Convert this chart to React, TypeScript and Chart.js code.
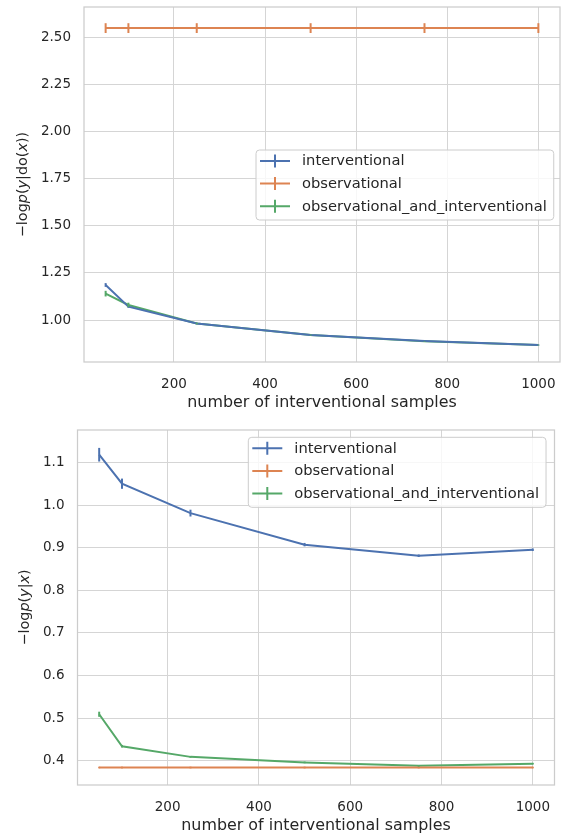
import { useEffect, useRef } from 'react';
import { Chart, registerables } from 'chart.js';

Chart.register(...registerables);

// ---------- data ----------
const samples = [50, 100, 250, 500, 750, 1000];
const seriesNames = ['interventional', 'observational', 'observational_and_interventional'];
const seriesColors = ['#4C72B0', '#DD8452', '#55A868'];
const xTicks = [200, 400, 600, 800, 1000];
const xTitle = 'number of interventional samples';

// top panel: -log p(y | do(x))
const doInterventional = [1.186, 1.071, 0.982, 0.92, 0.888, 0.867];
const doInterventionalErr = [0.01, 0.006, 0.004, 0.003, 0.003, 0.002];
const doObservational = [2.55, 2.55, 2.55, 2.55, 2.55, 2.55];
const doObservationalErr = [0.026, 0.026, 0.026, 0.026, 0.026, 0.026];
const doMixed = [1.14, 1.08, 0.982, 0.92, 0.887, 0.867];
const doMixedErr = [0.015, 0.012, 0.004, 0.003, 0.002, 0.002];
const topYTicks = [1.0, 1.25, 1.5, 1.75, 2.0, 2.25, 2.5];

// bottom panel: -log p(y | x)
const condInterventional = [1.118, 1.05, 0.981, 0.907, 0.881, 0.895];
const condInterventionalErr = [0.016, 0.012, 0.008, 0.004, 0.003, 0.003];
const condObservational = [0.384, 0.384, 0.384, 0.384, 0.384, 0.384];
const condObservationalErr = [0.002, 0.002, 0.002, 0.002, 0.002, 0.002];
const condMixed = [0.509, 0.434, 0.409, 0.396, 0.388, 0.393];
const condMixedErr = [0.006, 0.003, 0.002, 0.002, 0.002, 0.002];
const bottomYTicks = [0.4, 0.5, 0.6, 0.7, 0.8, 0.9, 1.0, 1.1];

const topYTitle: [string, boolean][] = [
  ['\u2212log', false], ['p', true], ['(', false], ['y', true], ['|do(', false], ['x', true], ['))', false],
];
const bottomYTitle: [string, boolean][] = [
  ['\u2212log', false], ['p', true], ['(', false], ['y', true], ['|', false], ['x', true], [')', false],
];

// ---------- styling ----------
const FONT = "'DejaVu Sans', sans-serif";
const TEXT = '#262626';
const GRID = '#d5d5d5';
const FRAME = '#cccccc';
const LINE_W = 2;

const errorBarPlugin = {
  id: 'errorBars',
  afterDatasetsDraw(chart: any, _args: any, opts: any) {
    const ctx = chart.ctx;
    const yScale = chart.scales.y;
    const errs: number[][] = opts.errors || [];
    chart.data.datasets.forEach((ds: any, i: number) => {
      const meta = chart.getDatasetMeta(i);
      const e = errs[i];
      if (!e) return;
      ctx.save();
      ctx.strokeStyle = ds.borderColor;
      ctx.lineWidth = LINE_W;
      meta.data.forEach((pt: any, j: number) => {
        const v = ds.data[j].y;
        const y1 = yScale.getPixelForValue(v - e[j]);
        const y2 = yScale.getPixelForValue(v + e[j]);
        ctx.beginPath();
        ctx.moveTo(pt.x, y1);
        ctx.lineTo(pt.x, y2);
        ctx.stroke();
      });
      ctx.restore();
    });
  },
};

const framePlugin = {
  id: 'frameAndTitle',
  beforeDatasetsDraw(chart: any) {
    const { ctx, chartArea } = chart;
    ctx.save();
    ctx.strokeStyle = FRAME;
    ctx.lineWidth = 1.25;
    ctx.strokeRect(chartArea.left, chartArea.top, chartArea.right - chartArea.left, chartArea.bottom - chartArea.top);
    ctx.restore();
  },
  afterDraw(chart: any, _args: any, opts: any) {
    const { ctx, chartArea } = chart;
    // y-axis title with math italics
    const segs: [string, boolean][] = opts.yTitle || [];
    ctx.save();
    const fontFor = (it: boolean) => `${it ? 'italic ' : ''}14.4px ${FONT}`;
    let total = 0;
    const widths = segs.map(([t, it]) => {
      ctx.font = fontFor(it);
      const w = ctx.measureText(t).width;
      total += w;
      return w;
    });
    const cy = (chartArea.top + chartArea.bottom) / 2;
    ctx.translate(opts.yTitleX, cy);
    ctx.rotate(-Math.PI / 2);
    ctx.fillStyle = TEXT;
    ctx.textBaseline = 'middle';
    ctx.textAlign = 'left';
    let x = -total / 2;
    segs.forEach(([t, it], k) => {
      ctx.font = fontFor(it);
      ctx.fillText(t, x, 0);
      x += widths[k];
    });
    ctx.restore();

    // legend
    const lg = opts.legend;
    if (!lg) return;
    ctx.save();
    ctx.font = `14.7px ${FONT}`;
    const names: string[] = lg.names;
    const colors: string[] = lg.colors;
    const maxW = Math.max(...names.map((n) => ctx.measureText(n).width));
    const textOff = 46;
    const w = textOff + maxW + 7;
    const rowH = 22.6;
    const firstOff = 11;
    const h = 70;
    const left = lg.left;
    const top = lg.top;
    const r = 3.5;
    ctx.beginPath();
    ctx.moveTo(left + r, top);
    ctx.lineTo(left + w - r, top);
    ctx.arcTo(left + w, top, left + w, top + r, r);
    ctx.lineTo(left + w, top + h - r);
    ctx.arcTo(left + w, top + h, left + w - r, top + h, r);
    ctx.lineTo(left + r, top + h);
    ctx.arcTo(left, top + h, left, top + h - r, r);
    ctx.lineTo(left, top + r);
    ctx.arcTo(left, top, left + r, top, r);
    ctx.closePath();
    ctx.fillStyle = 'rgba(255,255,255,0.8)';
    ctx.fill();
    ctx.strokeStyle = FRAME;
    ctx.lineWidth = 1;
    ctx.stroke();
    names.forEach((n, k) => {
      const cyRow = top + firstOff + k * rowH;
      ctx.strokeStyle = colors[k];
      ctx.lineWidth = LINE_W;
      ctx.beginPath();
      ctx.moveTo(left + 4, cyRow);
      ctx.lineTo(left + 34, cyRow);
      ctx.moveTo(left + 19, cyRow - 6.5);
      ctx.lineTo(left + 19, cyRow + 6.5);
      ctx.stroke();
      ctx.fillStyle = TEXT;
      ctx.textBaseline = 'middle';
      ctx.textAlign = 'left';
      ctx.fillText(n, left + textOff, cyRow + 0.5);
    });
    ctx.restore();
  },
};

type PanelProps = {
  width: number;
  height: number;
  series: number[][];
  errors: number[][];
  yMin: number;
  yMax: number;
  yTicks: number[];
  yDecimals: number;
  yTitle: [string, boolean][];
  yTitleX: number;
  yAxisWidth: number;
  padTop: number;
  padRight: number;
  legendLeft: number;
  legendTop: number;
};

function Panel(p: PanelProps) {
  const ref = useRef<HTMLCanvasElement | null>(null);
  useEffect(() => {
    if (!ref.current) return;
    const datasets = p.series.map((vals, i) => ({
      label: seriesNames[i],
      data: samples.map((s, j) => ({ x: s, y: vals[j] })),
      borderColor: seriesColors[i],
      backgroundColor: seriesColors[i],
      borderWidth: LINE_W,
      pointRadius: 0,
      tension: 0,
      fill: false,
    }));
    const chart = new Chart(ref.current, {
      type: 'line',
      data: { datasets },
      plugins: [errorBarPlugin, framePlugin],
      options: {
        animation: false,
        responsive: false,
        devicePixelRatio: 1,
        layout: { padding: { top: p.padTop, right: p.padRight, left: 0, bottom: 0 } },
        plugins: {
          legend: { display: false },
          tooltip: { enabled: false },
          errorBars: { errors: p.errors },
          frameAndTitle: {
            yTitle: p.yTitle,
            yTitleX: p.yTitleX,
            legend: { names: seriesNames, colors: seriesColors, left: p.legendLeft, top: p.legendTop },
          },
        } as any,
        scales: {
          x: {
            type: 'linear',
            min: 2.5,
            max: 1047.5,
            afterBuildTicks: (axis: any) => {
              axis.ticks = xTicks.map((v) => ({ value: v }));
            },
            afterFit: (scale: any) => {
              scale.height = 53;
              scale.paddingLeft = 0;
              scale.paddingRight = 0;
            },
            grid: { color: GRID, lineWidth: 1, drawTicks: false },
            border: { display: false },
            ticks: {
              color: TEXT,
              font: { family: FONT, size: 13.5 },
              padding: 14,
              maxRotation: 0,
              callback: (v: any) => String(v),
            },
            title: {
              display: true,
              text: xTitle,
              color: TEXT,
              font: { family: FONT, size: 15.9 },
              padding: { top: 0, bottom: 3 },
            },
          },
          y: {
            type: 'linear',
            min: p.yMin,
            max: p.yMax,
            afterBuildTicks: (axis: any) => {
              axis.ticks = p.yTicks.map((v) => ({ value: v }));
            },
            afterFit: (scale: any) => {
              scale.width = p.yAxisWidth;
              scale.paddingTop = 0;
              scale.paddingBottom = 0;
            },
            grid: { color: GRID, lineWidth: 1, drawTicks: false },
            border: { display: false },
            ticks: {
              color: TEXT,
              font: { family: FONT, size: 13.5 },
              padding: 13,
              callback: (v: any) => Number(v).toFixed(p.yDecimals),
            },
          },
        },
      } as any,
    });
    return () => chart.destroy();
  }, []);
  return (
    <div style={{ width: p.width, height: p.height }}>
      <canvas ref={ref} width={p.width} height={p.height} style={{ display: 'block' }} />
    </div>
  );
}

export default function App() {
  return (
    <div style={{ position: 'absolute', left: 0, top: 0, width: 562, height: 838, background: '#fff' }}>
      <Panel
        width={562}
        height={415}
        series={[doInterventional, doObservational, doMixed]}
        errors={[doInterventionalErr, doObservationalErr, doMixedErr]}
        yMin={0.777}
        yMax={2.662}
        yTicks={topYTicks}
        yDecimals={2}
        yTitle={topYTitle}
        yTitleX={23}
        yAxisWidth={84}
        padTop={7}
        padRight={2}
        legendLeft={256}
        legendTop={150}
      />
      <Panel
        width={562}
        height={423}
        series={[condInterventional, condObservational, condMixed]}
        errors={[condInterventionalErr, condObservationalErr, condMixedErr]}
        yMin={0.343}
        yMax={1.176}
        yTicks={bottomYTicks}
        yDecimals={1}
        yTitle={bottomYTitle}
        yTitleX={25}
        yAxisWidth={77.5}
        padTop={15}
        padRight={7.5}
        legendLeft={248.3}
        legendTop={22.3}
      />
    </div>
  );
}
